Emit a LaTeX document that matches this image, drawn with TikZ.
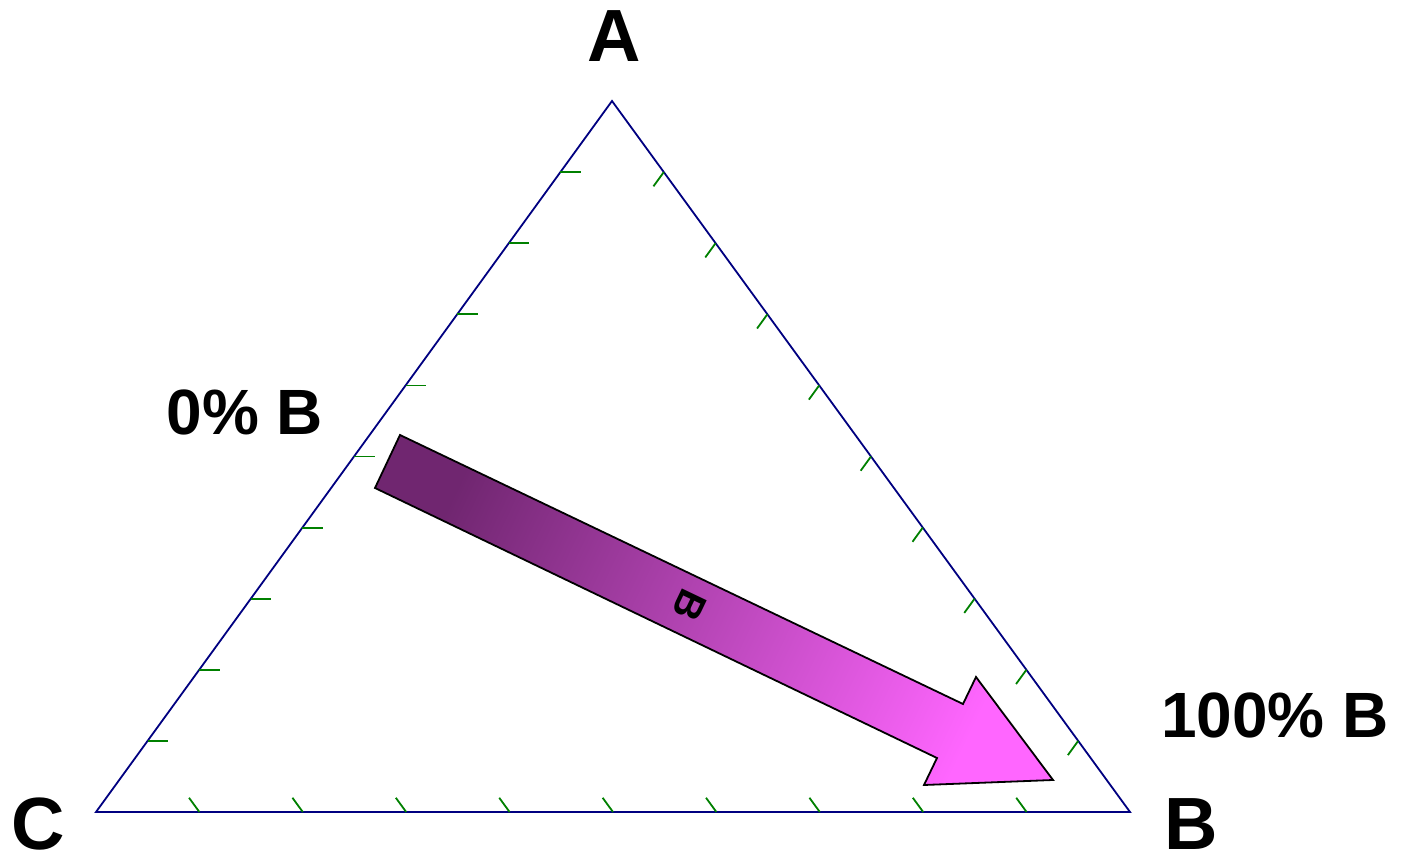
\documentclass[tikz,border=0pt]{standalone}
\usepackage{fontspec}
\setmainfont{Liberation Sans}
\usetikzlibrary{calc}
\definecolor{edgeblue}{RGB}{0,0,128}
\definecolor{tickgreen}{RGB}{0,128,0}
\definecolor{arrdark}{RGB}{112,38,112}
\definecolor{arrlight}{RGB}{255,102,255}
\tikzset{
  tri/.style ={draw=edgeblue,line width=0.9pt,line join=miter},
  tk/.style  ={draw=tickgreen,line width=0.9pt},
  lab/.style ={font=\fontsize{32}{36}\selectfont\bfseries,inner sep=0pt,anchor=base},
  corner/.style={lab,font=\fontsize{37}{42}\selectfont\bfseries},
  arr/.style ={draw=black,line width=0.9pt,line join=miter,
               left color=arrdark,right color=arrlight,shading angle=64.5},
}
\begin{document}
\begin{tikzpicture}[x=0.5pt,y=-0.5pt]
  \useasboundingbox (0,0) rectangle (1405,855);
  \coordinate (A) at (612,101);
  \coordinate (B) at (1130,812);
  \coordinate (C) at (96,812);
  \draw[tri] (A) -- (B) -- (C) -- cycle;
  % ticks every 10%
  \foreach \k in {1,...,9}{
    \draw[tk] ($(C)!\k/10!(A)$) -- ++($0.02*(B)-0.02*(C)$);
    \draw[tk] ($(A)!\k/10!(B)$) -- ++($0.02*(C)-0.02*(A)$);
    \draw[tk] ($(C)!\k/10!(B)$) -- ++($0.02*(A)-0.02*(B)$);
  }
  % composition arrow
  \draw[arr] (400,435) -- (963,704) -- (976,677) -- (1053,780)
    -- (924,785) -- (937,758) -- (375,488) -- cycle;
  \node[font=\fontsize{20}{24}\selectfont\bfseries,inner sep=0pt,rotate=-115.5] (arrB) at (690,605) {B};
  % labels
  \node[corner] (labA) at (614,62) {A};
  \node[corner] (labC) at (38,849) {C};
  \node[corner] (labB) at (1191,849) {B};
  \node[lab] (lab0) at (245,435) {0\% B};
  \node[lab] (lab100) at (1275,738) {100\% B};
\end{tikzpicture}
\end{document}
